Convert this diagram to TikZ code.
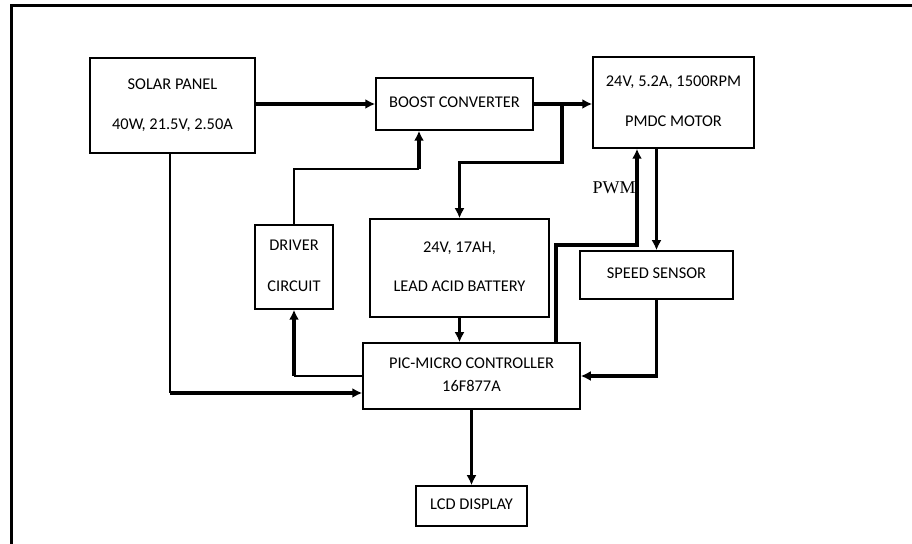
\documentclass[tikz,border=0pt]{standalone}
\usepackage{fontspec}
\setmainfont{Carlito}
\newfontfamily\pwmfont{Liberation Serif}
\usetikzlibrary{arrows.meta, calc}
\newcommand{\btxt}[2][3pt]{\raisebox{#1}{\begin{tabular}{@{}c@{}}#2\end{tabular}}}
\tikzset{
  blk/.style  = {draw, line width=0.75pt, inner sep=0pt, font=\fontsize{8.2}{9.6}\selectfont},
  pow/.style  = {line width=1.8pt, -{Latex[length=5pt,width=5pt]}}, % heavy flow
  sig/.style  = {line width=0.8pt},                                  % thin wire
  lbl/.style  = {font=\pwmfont\fontsize{9}{10}\selectfont, inner sep=0pt},
}
\begin{document}
\begin{tikzpicture}[x=0.5pt, y=-0.5pt]
  \useasboundingbox (0,0) rectangle (912,544);
  \draw[line width=1.5pt] (11,544) -- (11,5.5) -- (912,5.5);
  % blocks
  \node[blk, minimum width=82.5pt, minimum height=47.5pt] (sol) at (172.5,105.5) {\btxt[4pt]{SOLAR PANEL\\[10.5pt]40W, 21.5V, 2.50A}};
  \node[blk, minimum width=78.5pt, minimum height=26pt] (bst) at (454.5,104) {\btxt[3.5pt]{BOOST CONVERTER}};
  \node[blk, minimum width=80.5pt, minimum height=45.5pt] (mot) at (673.5,102.5) {\btxt[2.5pt]{24V, 5.2A, 1500RPM\\[10.5pt]PMDC MOTOR}};
  \node[blk, minimum width=39pt, minimum height=42pt] (drv) at (294,267) {\btxt[2pt]{DRIVER\\[11pt]CIRCUIT}};
  \node[blk, minimum width=89.5pt, minimum height=49pt] (bat) at (459.5,268) {\btxt[4pt]{24V, 17AH,\\[10pt]LEAD ACID BATTERY}};
  \node[blk, minimum width=76.5pt, minimum height=24pt] (sen) at (656.5,275) {\btxt{SPEED SENSOR}};
  \node[blk, minimum width=108.5pt, minimum height=33pt] (pic) at (471.5,376) {\btxt[1pt]{PIC-MICRO CONTROLLER\\[2pt]16F877A}};
  \node[blk, minimum width=55.5pt, minimum height=20pt] (lcd) at (471.5,506) {\btxt[2pt]{LCD DISPLAY}};
  \node[lbl] (pwm) at (614,188) {PWM};
  % bends
  \coordinate (split) at (562,104);
  \coordinate (drvbend) at (419,169);
  \coordinate (pwmbend) at (637,245);
  \coordinate (solbend) at ($(sol.south |- pic.west)+(-2.5,17)$);
  \coordinate (picbend) at (drv.south |- pic.west);
  % connectors
  \draw[pow] (sol.east |- bst.west) -- (bst.west);
  \draw[pow] (bst.east) -- (bst.east -| mot.west);
  \draw[pow] (split) -- (562,162.5) -| (bat.north);
  \draw[sig] (drv.north) |- (drvbend);
  \draw[pow] (drvbend) -- (drvbend |- bst.south);
  \draw[pow] (sen.north |- mot.south) -- (sen.north);
  \draw[pow] ([xshift=-12.5pt]pic.north east) |- (pwmbend) -- (pwmbend |- mot.south);
  \draw[pow] (sen.south) |- (pic.east);
  \draw[pow] (bat.south) -- (bat.south |- pic.north);
  \draw[sig] (pic.west) -- (picbend);
  \draw[pow] (picbend) -- (drv.south);
  \draw[sig] ([xshift=-1.25pt]sol.south) -- (solbend);
  \draw[pow] (solbend) -- (solbend -| pic.west);
  \draw[pow] (pic.south) -- (lcd.north);
\end{tikzpicture}
\end{document}
